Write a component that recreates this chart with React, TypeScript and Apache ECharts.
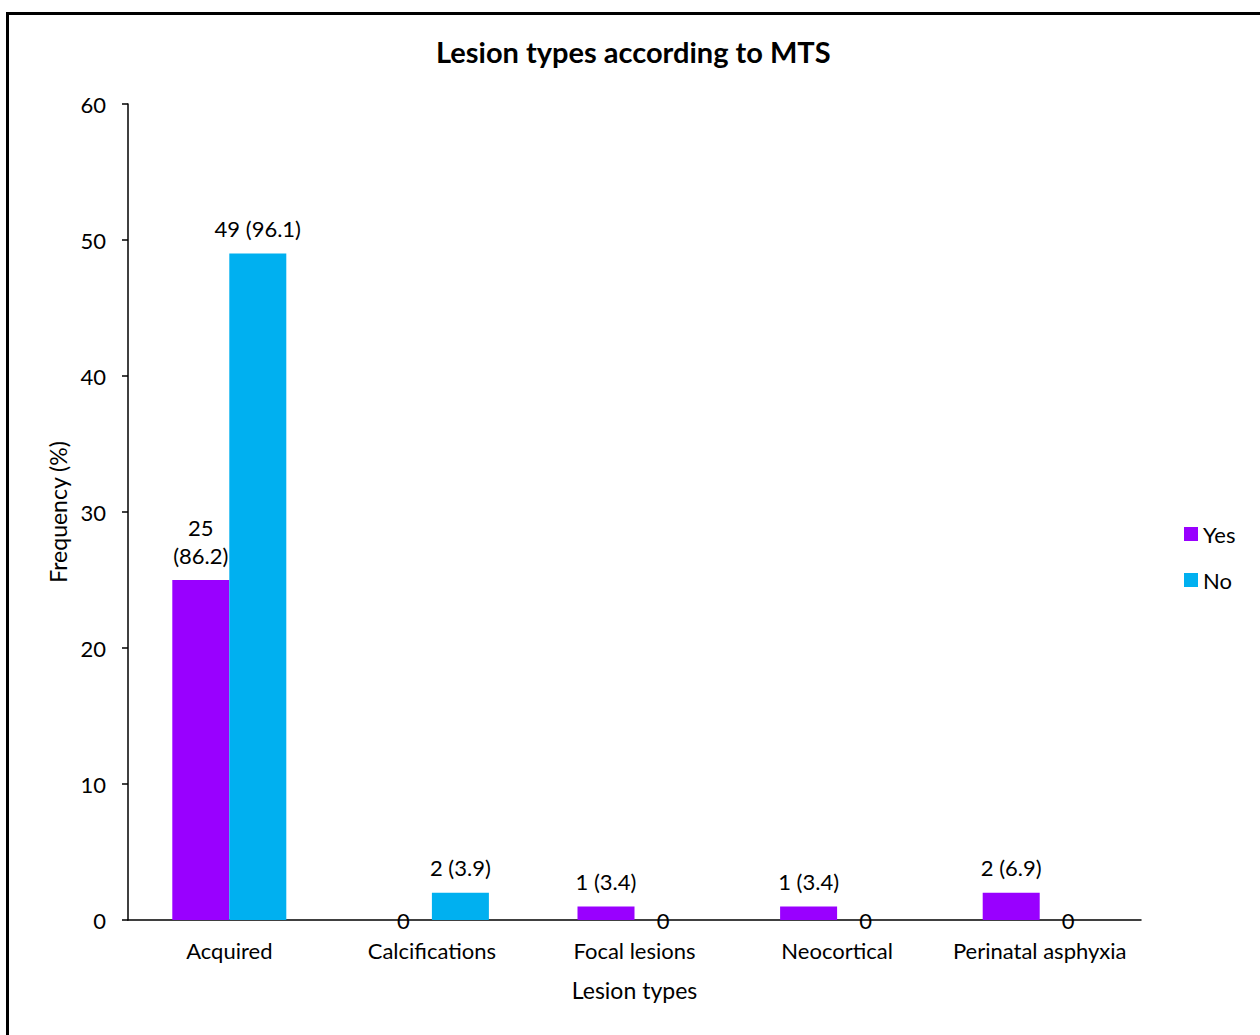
import React, { useEffect, useRef } from "react";
import * as echarts from "echarts";

// Lesion type categories and counts (with percentages) per MTS group
const categories = ["Acquired", "Calcifications", "Focal lesions", "Neocortical", "Perinatal asphyxia"];
const yesCounts = [25, 0, 1, 1, 2];
const yesPercents = ["86.2", "", "3.4", "3.4", "6.9"];
const noCounts = [49, 2, 0, 0, 0];
const noPercents = ["96.1", "3.9", "", "", ""];
const yTicks = [0, 10, 20, 30, 40, 50, 60];

const FONT = "Lato, 'Noto Sans', sans-serif";
const labelStyle = { color: "#000", fontSize: 22, fontFamily: FONT };

function buildData(counts: number[], percents: string[], wrapFirst: boolean) {
  return counts.map((v, i) => {
    if (v === 0) {
      return { value: v, label: { show: true, position: "inside", formatter: "0", ...labelStyle } };
    }
    const sep = wrapFirst && i === 0 ? "\n" : " ";
    return {
      value: v,
      label: {
        show: true,
        position: "top",
        distance: 11,
        formatter: `${v}${sep}(${percents[i]})`,
        lineHeight: 28,
        ...labelStyle,
      },
    };
  });
}

export default function App() {
  const ref = useRef<HTMLDivElement>(null);

  useEffect(() => {
    const chart = echarts.init(ref.current!, null, { renderer: "svg" });
    chart.setOption({
      animation: false,
      backgroundColor: "#fff",
      title: {
        text: "Lesion types according to MTS",
        left: 431,
        top: 32,
        textStyle: { fontFamily: FONT, fontWeight: "bold", fontSize: 29, color: "#000" },
      },
      legend: {
        orient: "vertical",
        left: 1179,
        top: 518,
        itemWidth: 14,
        itemHeight: 14,
        itemGap: 24,
        icon: "rect",
        textStyle: { fontFamily: FONT, fontSize: 22, color: "#000" },
        data: ["Yes", "No"],
      },
      grid: { left: 128, right: 119, top: 104, bottom: 115, containLabel: false },
      xAxis: {
        type: "category",
        data: categories,
        name: "Lesion types",
        nameLocation: "middle",
        nameGap: 58,
        nameTextStyle: { fontFamily: FONT, fontSize: 23, color: "#000" },
        axisLine: { lineStyle: { color: "#000", width: 1.5 } },
        axisTick: { show: false },
        axisLabel: { interval: 0, fontFamily: FONT, fontSize: 22, color: "#000", margin: 19 },
      },
      yAxis: {
        type: "value",
        min: yTicks[0],
        max: yTicks[yTicks.length - 1],
        interval: 10,
        name: "Frequency (%)",
        nameLocation: "middle",
        nameGap: 58,
        nameTextStyle: { fontFamily: FONT, fontSize: 23, color: "#000" },
        axisLine: { show: true, lineStyle: { color: "#000", width: 1.5 } },
        axisTick: { show: true, length: 6, lineStyle: { color: "#000", width: 1.5 } },
        axisLabel: { fontFamily: FONT, fontSize: 22, color: "#000", margin: 22 },
        splitLine: { show: false },
      },
      series: [
        {
          name: "Yes",
          type: "bar",
          barWidth: 57,
          barGap: "0%",
          itemStyle: { color: "#9900FF" },
          data: buildData(yesCounts, yesPercents, true),
        },
        {
          name: "No",
          type: "bar",
          barWidth: 57,
          barGap: "0%",
          itemStyle: { color: "#00B0F0" },
          data: buildData(noCounts, noPercents, false),
        },
      ],
      graphic: [
        {
          type: "rect",
          shape: { x: 7.5, y: 13.5, width: 1270, height: 1040 },
          style: { fill: "none", stroke: "#000", lineWidth: 3 },
          silent: true,
        },
      ],
    });
    return () => chart.dispose();
  }, []);

  return (
    <div
      ref={ref}
      style={{ position: "fixed", left: 0, top: 0, width: 1260, height: 1035 }}
    />
  );
}
